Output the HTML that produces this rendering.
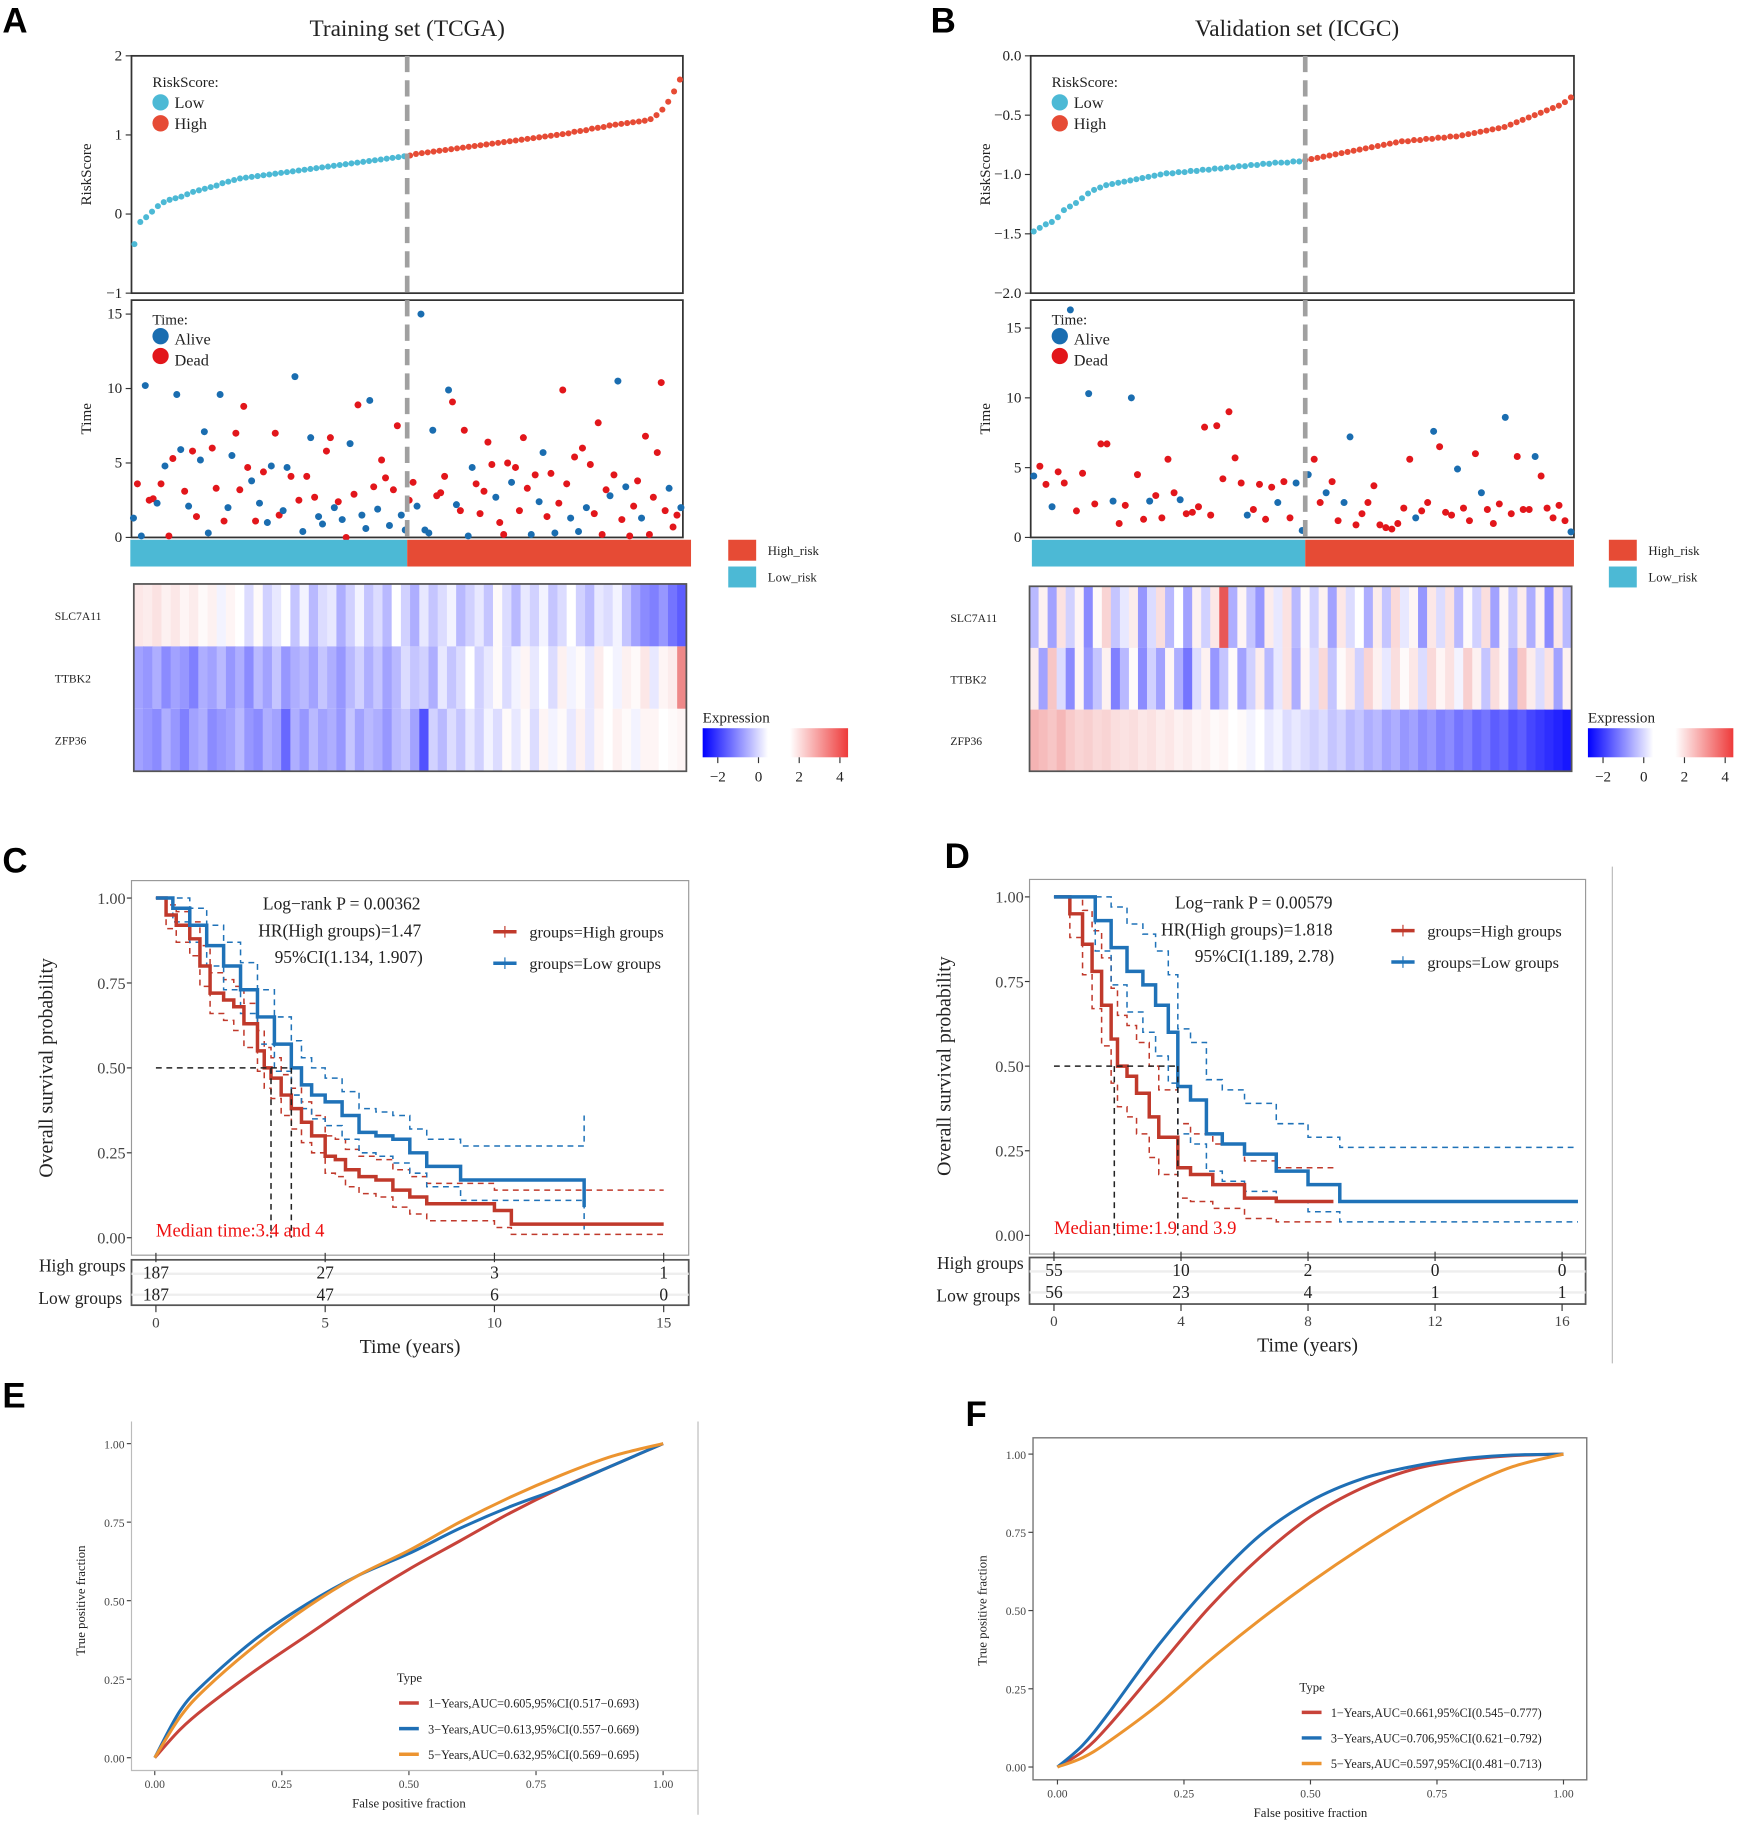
<!DOCTYPE html>
<html><head><meta charset="utf-8">
<style>
html,body{margin:0;padding:0;background:#fff;}
svg{display:block;}
text{font-family:"Liberation Serif",serif;fill:#222;}
.lt{font-family:"Liberation Sans",sans-serif;font-weight:bold;fill:#000;font-size:30px;}
</style></head>
<body>
<svg id="fig" width="1745" height="1831" viewBox="0 0 1500 1574" xmlns="http://www.w3.org/2000/svg">
<rect x="0" y="0" width="1500" height="1574" fill="#fff"/>
<text class="lt" x="2" y="28">A</text>
<text class="lt" x="800" y="28">B</text>
<text class="lt" x="2" y="750">C</text>
<text class="lt" x="812" y="746">D</text>
<text class="lt" x="2" y="1210">E</text>
<text class="lt" x="830" y="1226">F</text>

<text x="350" y="31" font-size="20" text-anchor="middle">Training set (TCGA)</text>
<text x="1115" y="31" font-size="20" text-anchor="middle">Validation set (ICGC)</text>
<g id="root"></g>
</svg>
<script>
// ===== Data: Panel A =====
const A_riskLow = [-0.38,-0.1,-0.04,0.03,0.1,0.15,0.18,0.2,0.22,0.25,0.28,0.3,0.32,0.34,0.36,0.39,0.41,0.43,0.45,0.46,0.47,0.48,0.49,0.5,0.51,0.52,0.53,0.54,0.55,0.56,0.57,0.58,0.59,0.6,0.61,0.62,0.63,0.64,0.65,0.66,0.67,0.68,0.69,0.7,0.71,0.72,0.73];
const A_riskHigh = [0.74,0.76,0.77,0.78,0.79,0.8,0.81,0.82,0.83,0.84,0.85,0.86,0.87,0.88,0.89,0.9,0.91,0.92,0.93,0.94,0.95,0.96,0.97,0.98,0.99,1.0,1.01,1.02,1.04,1.05,1.06,1.08,1.09,1.1,1.12,1.13,1.14,1.15,1.16,1.17,1.18,1.2,1.25,1.32,1.42,1.55,1.7];
const A_timeLow = [1.3,3.6,0.1,10.2,2.5,2.6,2.3,3.6,4.8,0.1,5.3,9.6,5.9,3.1,2.1,5.8,1.4,5.2,7.1,0.3,6.0,3.3,9.6,1.1,2.0,5.5,7.0,3.2,8.8,4.7,3.8,1.1,2.3,4.4,1.0,4.8,7.0,1.5,1.8,4.7,4.1,10.8,2.5,0.4,4.1,6.7,2.7,1.4,0.9,5.8,6.7,2.0,2.4,1.2,0.0,6.3,2.9,8.9,1.5,0.6,9.2,3.4,1.9,5.2,4.0,0.8,3.2,7.5,1.5,0.5];
const A_statLow = [0,1,0,0,1,1,0,1,0,1,1,0,0,1,0,1,1,0,0,0,1,1,0,1,0,0,1,1,1,1,0,1,0,1,0,0,1,1,0,0,1,0,1,0,1,0,1,0,0,1,1,0,1,0,1,0,1,1,0,0,0,1,0,1,1,0,1,1,0,0];
const A_timeHigh = [2.5,3.7,2.1,15.0,0.5,0.3,7.2,2.8,3.0,4.1,9.9,9.1,2.2,1.8,7.2,0.1,4.7,3.6,1.6,3.1,6.4,4.9,2.7,1.0,0.2,5.0,3.7,4.7,1.8,6.7,3.3,0.2,4.2,2.4,5.7,1.4,4.3,0.3,2.3,9.9,3.6,1.3,5.4,0.4,6.0,2.0,4.9,1.6,7.7,0.2,3.2,2.8,4.2,10.5,1.2,3.4,0.1,2.1,3.8,1.3,6.8,0.2,2.7,5.7,10.4,1.8,3.3,0.7,1.5,2.0];
const A_statHigh = [1,1,0,0,0,0,0,1,1,1,0,1,0,1,1,0,0,1,1,1,1,1,0,1,1,1,0,1,1,1,1,0,1,0,0,1,1,0,1,1,1,0,1,0,1,0,1,1,1,1,1,0,1,0,1,0,1,1,1,0,1,1,1,1,1,1,0,1,1,0];
const A_hmSLC = [0.5,0.4,0.6,0.3,0.5,0.2,0.4,0.1,0.3,-0.1,0.2,0.0,-0.3,0.1,-0.4,-0.2,0.0,-0.5,-0.1,-0.6,-0.3,-0.2,-0.7,-0.4,-0.1,-0.5,-0.3,-0.6,0.0,-0.4,-0.7,-0.2,-0.5,-0.3,-0.1,-0.6,-0.4,-0.2,-0.5,0.1,-0.3,-0.6,-0.2,-0.4,-0.1,-0.5,-0.3,0.0,-0.4,-0.6,-0.2,-0.3,-0.1,-0.5,-0.8,-1.0,-1.1,-0.9,-1.2,-1.4];
const A_hmTTBK = [-0.8,-0.9,-0.7,-1.0,-0.8,-0.9,-1.1,-0.7,-0.8,-0.6,-0.9,-0.7,-1.0,-0.6,-0.8,-0.5,-0.9,-0.7,-0.6,-0.8,-0.5,-0.7,-0.9,-0.6,-0.4,-0.7,-0.5,-0.8,-0.6,-0.3,-0.5,-0.4,-0.7,-0.2,-0.5,-0.3,0.0,-0.4,-0.2,0.1,-0.3,-0.1,0.2,-0.2,0.0,-0.3,0.3,-0.1,0.1,-0.2,0.4,0.0,-0.1,0.3,0.1,0.5,-0.2,0.2,0.4,2.5];
const A_hmZFP = [-0.8,-0.9,-1.0,-0.7,-0.9,-1.1,-0.8,-0.7,-1.0,-0.9,-0.8,-0.6,-0.9,-1.0,-0.7,-0.8,-1.3,-0.7,-0.9,-0.6,-0.8,-0.7,-0.9,-0.5,-0.8,-0.6,-0.7,-0.9,-0.6,-0.5,-0.8,-1.5,-0.4,-0.6,-0.3,-0.5,-0.2,-0.4,-0.1,-0.3,0.1,-0.2,0.1,-0.3,0.2,-0.1,0.1,-0.2,0.3,-0.2,0.2,0.0,0.3,0.1,-0.1,0.2,0.2,0.0,0.1,0.2];
// ===== Data: Panel B =====
const B_riskLow = [-1.48,-1.45,-1.42,-1.4,-1.36,-1.3,-1.27,-1.24,-1.2,-1.16,-1.13,-1.11,-1.09,-1.08,-1.07,-1.06,-1.05,-1.04,-1.03,-1.02,-1.01,-1.0,-0.99,-0.99,-0.98,-0.98,-0.97,-0.97,-0.96,-0.96,-0.95,-0.95,-0.94,-0.94,-0.93,-0.93,-0.92,-0.92,-0.91,-0.91,-0.9,-0.9,-0.9,-0.89,-0.89];
const B_riskHigh = [-0.88,-0.87,-0.86,-0.85,-0.84,-0.83,-0.82,-0.81,-0.8,-0.79,-0.78,-0.77,-0.76,-0.75,-0.74,-0.73,-0.72,-0.72,-0.71,-0.71,-0.7,-0.7,-0.69,-0.69,-0.68,-0.68,-0.67,-0.66,-0.65,-0.64,-0.63,-0.62,-0.61,-0.6,-0.58,-0.56,-0.54,-0.52,-0.5,-0.48,-0.46,-0.44,-0.42,-0.39,-0.35];
const B_timeLow = [4.4,5.1,3.8,2.2,4.7,3.9,16.3,1.9,4.6,10.3,2.4,6.7,6.7,2.6,1.0,2.3,10.0,4.5,1.3,2.6,3.0,1.4,5.6,3.2,2.7,1.7,1.8,2.2,7.9,1.6,8.0,4.2,9.0,5.7,3.9,1.6,2.0,3.8,1.3,3.6,2.5,4.0,1.4,3.9,0.5];
const B_statLow = [0,1,1,0,1,1,0,1,1,0,1,1,1,0,1,1,0,1,1,0,1,1,1,1,0,1,1,1,1,1,1,1,1,1,1,0,1,1,1,1,0,1,1,0,0];
const B_timeHigh = [4.5,5.6,2.5,3.2,4.0,1.2,2.5,7.2,0.9,1.7,2.5,3.7,0.9,0.7,0.6,1.0,2.1,5.6,1.4,1.9,2.5,7.6,6.5,1.8,1.6,4.9,2.1,1.2,6.0,3.2,2.0,1.0,2.4,8.6,1.7,5.8,2.0,2.0,5.8,4.4,2.1,1.4,2.3,1.2,0.4];
const B_statHigh = [0,1,1,0,1,1,0,0,1,1,1,1,1,1,1,1,1,1,0,1,1,0,1,1,1,0,1,1,1,0,1,1,1,0,1,1,1,1,0,1,1,1,1,1,0];
const B_hmSLC = [-0.6,0.3,-0.8,0.6,-0.4,0.2,-1.0,0.1,0.9,-0.5,-0.2,0.4,-0.9,-0.3,0.7,-0.6,0.0,-0.8,0.3,-0.4,0.5,3.5,-0.7,0.2,-0.5,-0.9,0.4,-0.2,0.6,-0.6,0.1,-0.4,0.3,-0.8,0.5,-0.3,0.0,-0.7,0.4,-0.5,0.8,-0.2,0.2,-0.9,0.5,-0.3,0.6,-0.6,0.1,-0.4,0.7,-0.8,0.2,-0.5,0.4,-0.7,0.3,-1.0,0.5,-0.6];
const B_hmTTBK = [0.4,-0.8,1.2,-0.3,-1.0,0.2,-0.9,-0.5,0.3,-1.1,-0.6,0.1,-1.0,-0.4,-0.8,0.2,-0.7,-1.2,-0.3,0.3,-0.9,-0.5,0.1,-0.8,-0.4,0.4,-0.6,-0.2,0.6,-0.7,0.2,-0.3,0.8,-0.5,0.1,0.5,-0.4,0.9,0.3,-0.2,0.7,0.1,0.5,-0.3,0.8,0.2,0.6,-0.1,1.0,0.3,-0.5,0.7,0.2,-0.7,1.2,0.4,-0.3,0.6,-0.8,0.3];
const B_hmZFP = [1.6,1.4,1.2,1.5,1.1,0.9,1.0,0.8,0.9,0.7,0.6,0.7,0.5,0.6,0.4,0.5,0.3,0.4,0.2,0.3,0.1,0.2,0.0,0.1,-0.1,0.0,-0.2,-0.1,-0.3,-0.2,-0.3,-0.4,-0.3,-0.5,-0.4,-0.6,-0.5,-0.7,-0.6,-0.8,-0.7,-0.9,-0.8,-1.0,-0.9,-1.1,-1.0,-1.2,-1.1,-1.3,-1.2,-1.4,-1.3,-1.5,-1.4,-1.6,-1.7,-1.8,-1.9,-2.0];
// ===== Data: Panel C (KM, TCGA) =====
const C_highT = [0,0.3,0.6,1,1.3,1.6,2,2.3,2.6,3,3.2,3.4,3.7,4,4.3,4.6,5,5.3,5.6,6,6.5,7,7.5,8,9,10,10.5,15];
const C_highS = [1,.95,.92,.88,.8,.72,.7,.68,.63,.55,.5,.47,.42,.38,.34,.3,.24,.23,.2,.18,.17,.14,.12,.1,.1,.08,.04,.04];
const C_highUp = [1,.98,.96,.93,.86,.78,.76,.74,.69,.61,.56,.53,.48,.44,.40,.36,.30,.29,.26,.24,.23,.2,.18,.16,.16,.14,.14,.14];
const C_highLo = [1,.91,.87,.83,.74,.66,.64,.61,.56,.49,.44,.41,.36,.32,.28,.25,.19,.18,.15,.13,.12,.09,.07,.05,.05,.03,.01,.01];
const C_lowT = [0,0.5,1,1.5,2,2.5,3,3.5,4,4.3,4.6,5,5.5,6,6.5,7,7.5,8,9,12.6,12.65];
const C_lowS = [1,.97,.92,.86,.8,.73,.65,.57,.5,.45,.42,.4,.36,.31,.3,.29,.25,.21,.17,.17,.09];
const C_lowUp = [1,1,.97,.92,.87,.81,.73,.65,.58,.53,.5,.47,.43,.38,.37,.36,.32,.29,.27,.27,.36];
const C_lowLo = [1,.93,.87,.8,.73,.66,.57,.49,.42,.38,.35,.33,.29,.25,.24,.22,.19,.15,.11,.11,.02];
const C_medians = [3.4,4];
const C_ticks = [0,5,10,15];
const C_riskHigh = [187,27,3,1];
const C_riskLow = [187,47,6,0];
// ===== Data: Panel D (KM, ICGC) =====
const D_highT = [0,.5,.9,1.2,1.5,1.8,2,2.3,2.6,3,3.3,3.9,4.3,5,6,7,8.8];
const D_highS = [1,.95,.86,.78,.68,.58,.5,.47,.42,.35,.29,.2,.18,.15,.11,.1,.1];
const D_highUp = [1,1,.96,.9,.82,.73,.65,.62,.57,.5,.43,.33,.3,.27,.22,.2,.2];
const D_highLo = [1,.88,.77,.67,.56,.45,.38,.35,.3,.23,.18,.11,.1,.08,.05,.04,.04];
const D_lowT = [0,1,1.3,1.8,2.3,2.8,3.2,3.6,3.9,4.3,4.8,5.3,6,7,8,9,16.5];
const D_lowS = [1,1,.93,.85,.78,.74,.68,.6,.44,.4,.3,.27,.24,.19,.15,.1,.1];
const D_lowUp = [1,1,1,.97,.92,.89,.84,.77,.61,.57,.46,.43,.39,.33,.29,.26,.26];
const D_lowLo = [1,1,.84,.74,.66,.6,.53,.45,.3,.27,.19,.16,.13,.1,.07,.04,.04];
const D_medians = [1.9,3.9];
const D_ticks = [0,4,8,12,16];
const D_riskHigh = [55,10,2,0,0];
const D_riskLow = [56,23,4,1,1];
// ===== Data: ROC =====
const rocFpr = [0,.05,.1,.2,.3,.4,.5,.6,.7,.8,.9,1];
const E_tpr1 = [0,.09,.16,.28,.39,.5,.6,.69,.78,.86,.93,1];
const E_tpr3 = [0,.15,.24,.38,.49,.58,.65,.73,.8,.86,.93,1];
const E_tpr5 = [0,.13,.22,.36,.48,.58,.66,.75,.83,.9,.96,1];
const F_tpr1 = [0,.05,.13,.32,.51,.67,.8,.89,.95,.98,.995,1];
const F_tpr3 = [0,.07,.17,.39,.58,.74,.85,.92,.96,.985,.997,1];
const F_tpr5 = [0,.03,.08,.2,.34,.47,.59,.7,.8,.89,.96,1];
const E_labels = ["1−Years,AUC=0.605,95%CI(0.517−0.693)","3−Years,AUC=0.613,95%CI(0.557−0.669)","5−Years,AUC=0.632,95%CI(0.569−0.695)"];
const F_labels = ["1−Years,AUC=0.661,95%CI(0.545−0.777)","3−Years,AUC=0.706,95%CI(0.621−0.792)","5−Years,AUC=0.597,95%CI(0.481−0.713)"];
const rocTicks = [0,0.25,0.5,0.75,1];

const NS = 'http://www.w3.org/2000/svg';
const root = document.getElementById('root');
function mk(tag, attrs, parent){
  const e = document.createElementNS(NS, tag);
  for (const k in attrs) e.setAttribute(k, attrs[k]);
  (parent||root).appendChild(e);
  return e;
}
function txt(x,y,s,size,extra){
  const t = mk('text', Object.assign({x:x,y:y,'font-size':size}, extra||{}));
  if (extra && extra.fill) t.style.fill = extra.fill;
  t.textContent = s;
  return t;
}
const CY = '#4cb9d5', RD = '#e64b35', ALIVE = '#1a6db0', DEAD = '#e2161b';
function hmColor(v){
  if (v < 0){ const t=Math.min(1,-v/2.2); const c=Math.round(255*(1-t)); return `rgb(${c},${c},255)`; }
  const t=Math.min(1,v/4.5); return `rgb(${Math.round(255-30*t)},${Math.round(255-215*t)},${Math.round(255-215*t)})`;
}

function riskPanel(cfg){
  const g = mk('g',{});
  
  
  const {x0,x1} = cfg;
  const ry = v => cfg.rY0 + (cfg.rMax - v)/(cfg.rMax-cfg.rMin)*(cfg.rY1-cfg.rY0);
  mk('rect',{x:x0,y:cfg.rY0,width:x1-x0,height:cfg.rY1-cfg.rY0,fill:'none',stroke:'#333','stroke-width':1.5},g);
  cfg.rTicks.forEach((v,i)=>{
    mk('line',{x1:x0-5,x2:x0,y1:ry(v),y2:ry(v),stroke:'#333'},g);
    g.appendChild(txt(x0-8, ry(v)+4, cfg.rTickLabels[i], 13, {'text-anchor':'end'}));
  });
  g.appendChild(txt(0,0,'RiskScore',13,{'text-anchor':'middle',transform:`translate(${x0-35},${(cfg.rY0+cfg.rY1)/2}) rotate(-90)`}));
  const all = cfg.low.concat(cfg.high); const N = all.length;
  const px = i => x0 + (i+0.5)/N*(x1-x0);
  all.forEach((v,i)=>{
    const c = mk('circle',{cx:px(i),cy:ry(v),r:2.6,fill: i<cfg.low.length?CY:RD},g);
    
    
  });
  g.appendChild(txt(x0+18,cfg.rY0+27,'RiskScore:',13));
  mk('circle',{cx:x0+25,cy:cfg.rY0+40,r:7,fill:CY},g);
  g.appendChild(txt(x0+37,cfg.rY0+45,'Low',14));
  mk('circle',{cx:x0+25,cy:cfg.rY0+58,r:7,fill:RD},g);
  g.appendChild(txt(x0+37,cfg.rY0+63,'High',14));

  const g2 = mk('g',{});
  
  
  const ty = v => cfg.tY1 - v/cfg.tMax*(cfg.tY1-cfg.tTop);
  mk('rect',{x:x0,y:cfg.tY0,width:x1-x0,height:cfg.tY1-cfg.tY0,fill:'none',stroke:'#333','stroke-width':1.5},g2);
  [0,5,10,15].forEach(v=>{
    mk('line',{x1:x0-5,x2:x0,y1:ty(v),y2:ty(v),stroke:'#333'},g2);
    g2.appendChild(txt(x0-8,ty(v)+4,String(v),13,{'text-anchor':'end'}));
  });
  g2.appendChild(txt(0,0,'Time',13,{'text-anchor':'middle',transform:`translate(${x0-35},${(cfg.tY0+cfg.tY1)/2}) rotate(-90)`}));
  const times = cfg.tLow.concat(cfg.tHigh), stats = cfg.sLow.concat(cfg.sHigh);
  const M = times.length, splitX = cfg.split;
  times.forEach((v,i)=>{
    const nl = cfg.tLow.length;
    const x = i<nl ? x0+(i+0.5)/nl*(splitX-x0) : splitX+(i-nl+0.5)/(M-nl)*(x1-splitX);
    const c = mk('circle',{cx:x,cy:Math.max(cfg.tY0,ty(v)),r:3,fill: stats[i]?DEAD:ALIVE},g2);
    
    
  });
  g2.appendChild(txt(x0+18,cfg.tY0+21,'Time:',13));
  mk('circle',{cx:x0+25,cy:cfg.tY0+31,r:7,fill:ALIVE},g2);
  g2.appendChild(txt(x0+37,cfg.tY0+38,'Alive',14));
  mk('circle',{cx:x0+25,cy:cfg.tY0+48,r:7,fill:DEAD},g2);
  g2.appendChild(txt(x0+37,cfg.tY0+56,'Dead',14));
  const dl = mk('line',{x1:splitX,x2:splitX,y1:cfg.rY0,y2:cfg.tY1,stroke:'#a0a0a0','stroke-width':4,'stroke-dasharray':'14,7'});
  
  
  const b1 = mk('rect',{x:cfg.barX0,y:cfg.tY1+2,width:splitX-cfg.barX0,height:23,fill:CY});
  
  
  const b2 = mk('rect',{x:splitX,y:cfg.tY1+2,width:cfg.barX1-splitX,height:23,fill:RD});
  
  
  const lgx = cfg.legX;
  mk('rect',{x:lgx,y:cfg.tY1+2,width:24,height:18,fill:RD});
  txt(lgx+34,cfg.tY1+15,'High_risk',11);
  mk('rect',{x:lgx,y:cfg.tY1+25,width:24,height:18,fill:CY});
  txt(lgx+34,cfg.tY1+38,'Low_risk',11);
  const g3 = mk('g',{});
  
  
  const rows = [cfg.hm1,cfg.hm2,cfg.hm3], names=['SLC7A11','TTBK2','ZFP36'];
  const hx0=cfg.hX0, hx1=cfg.hX1, hy0=cfg.hY0, hy1=cfg.hY1, rh=(hy1-hy0)/3;
  rows.forEach((row,r)=>{
    const w=(hx1-hx0)/row.length;
    row.forEach((v,i)=>{
      const c = mk('rect',{x:hx0+i*w,y:hy0+r*rh,width:w+0.6,height:rh,fill:hmColor(v)},g3);
      
      
    });
    g3.appendChild(txt(hx0-68,hy0+r*rh+rh/2+4,names[r],10));
  });
  mk('rect',{x:hx0,y:hy0,width:hx1-hx0,height:hy1-hy0,fill:'none',stroke:'#555','stroke-width':1.5},g3);
  const gl = mk('g',{});
  
  
  const lx=cfg.cbX;
  gl.appendChild(txt(lx,621,'Expression',13));
  const gid='grad'+cfg.id;
  const defs=mk('defs',{},gl); const lgd=mk('linearGradient',{id:gid,x1:0,x2:1,y1:0,y2:0},defs);
  [['0','#0000ff'],['0.45','#ffffff'],['0.6','#ffffff'],['1','#ee3a3a']].forEach(s=>mk('stop',{offset:s[0],'stop-color':s[1]},lgd));
  mk('rect',{x:lx,y:626,width:125,height:25,fill:`url(#${gid})`},gl);
  [-2,0,2,4].forEach((v,i)=>{
    const x = lx+13+i*35;
    mk('line',{x1:x,x2:x,y1:651,y2:656,stroke:'#333'},gl);
    gl.appendChild(txt(x,672,String(v).replace('-','−'),13,{'text-anchor':'middle'}));
  });
}

riskPanel({id:'panel-a',x0:113,x1:587,rY0:48,rY1:252,rMin:-1,rMax:2,rTicks:[2,1,0,-1],rTickLabels:['2','1','0','−1'],
  low:A_riskLow,high:A_riskHigh,tY0:258,tY1:462,tTop:270,tMax:15,tLow:A_timeLow,tHigh:A_timeHigh,sLow:A_statLow,sHigh:A_statHigh,
  split:350,barX0:112,barX1:594,legX:626,hX0:115,hX1:590,hY0:502,hY1:663,hm1:A_hmSLC,hm2:A_hmTTBK,hm3:A_hmZFP,cbX:604});
riskPanel({id:'panel-b',x0:886,x1:1353,rY0:48,rY1:252,rMin:-2,rMax:0,rTicks:[0,-0.5,-1,-1.5,-2],rTickLabels:['0.0','−0.5','−1.0','−1.5','−2.0'],
  low:B_riskLow,high:B_riskHigh,tY0:258,tY1:462,tTop:282,tMax:15,tLow:B_timeLow,tHigh:B_timeHigh,sLow:B_statLow,sHigh:B_statHigh,
  split:1122,barX0:887,barX1:1353,legX:1383,hX0:885,hX1:1351,hY0:504,hY1:663,hm1:B_hmSLC,hm2:B_hmTTBK,hm3:B_hmZFP,cbX:1365});

const RDk = '#c0392b', BLk = '#1f72b8';
function kmPanel(c){
  const g = mk('g',{});
  
  
  const X = t => c.xA + t*c.pxPer, Y = s => c.y0 - s*(c.y0-c.y1);
  mk('rect',{x:c.bx0,y:c.by0,width:c.bx1-c.bx0,height:c.by1-c.by0,fill:'none',stroke:'#999','stroke-width':1},g);
  [0,0.25,0.5,0.75,1].forEach(v=>{
    mk('line',{x1:c.bx0-4,x2:c.bx0,y1:Y(v),y2:Y(v),stroke:'#333'},g);
    g.appendChild(txt(c.bx0-5,Y(v)+5,v.toFixed(2),14,{'text-anchor':'end',fill:'#444'}));
  });
  g.appendChild(txt(0,0,'Overall survival probability',17,{'text-anchor':'middle',transform:`translate(${c.bx0-68},${Y(0.5)}) rotate(-90)`}));
  function step(T,S){ let d=`M${X(T[0])},${Y(S[0])}`; for(let i=1;i<T.length;i++){ d+=` H${X(T[i])} V${Y(S[i])}`; } return d; }
  const series = [[c.hT,c.hUp,RDk,1.3,'5,4','high-ci-upper'],[c.hT,c.hLo,RDk,1.3,'5,4','high-ci-lower'],[c.lT,c.lUp,BLk,1.3,'5,4','low-ci-upper'],[c.lT,c.lLo,BLk,1.3,'5,4','low-ci-lower'],[c.hT,c.hS,RDk,3,'','high-groups-curve'],[c.lT,c.lS,BLk,3,'','low-groups-curve']];
  series.forEach(s=>{
    const p = mk('path',{d:step(s[0],s[1]),fill:'none',stroke:s[2],'stroke-width':s[3],'stroke-dasharray':s[4]||'none'},g);
    
    
  });
  const mx = Math.max(...c.med);
  mk('line',{x1:X(0),x2:X(mx),y1:Y(0.5),y2:Y(0.5),stroke:'#222','stroke-width':1.3,'stroke-dasharray':'5,4'},g);
  c.med.forEach(m=>mk('line',{x1:X(m),x2:X(m),y1:Y(0.5),y2:Y(0),stroke:'#222','stroke-width':1.3,'stroke-dasharray':'5,4'},g));
  g.appendChild(txt(X(0),Y(0)-1,c.medText,16,{fill:'#ee1111'}));
  c.stats.forEach(s=>g.appendChild(txt(s[0],s[1],s[2],15,{fill:'#222'})));
  mk('line',{x1:c.legX,x2:c.legX+20,y1:c.legY,y2:c.legY,stroke:RDk,'stroke-width':3},g);
  mk('line',{x1:c.legX+10,x2:c.legX+10,y1:c.legY-5,y2:c.legY+5,stroke:RDk,'stroke-width':1},g);
  g.appendChild(txt(c.legX+31,c.legY+5,'groups=High groups',14));
  mk('line',{x1:c.legX,x2:c.legX+20,y1:c.legY+27,y2:c.legY+27,stroke:BLk,'stroke-width':3},g);
  mk('line',{x1:c.legX+10,x2:c.legX+10,y1:c.legY+22,y2:c.legY+32,stroke:BLk,'stroke-width':1},g);
  g.appendChild(txt(c.legX+31,c.legY+32,'groups=Low groups',14));
  const gt = mk('g',{});
  
  
  mk('rect',{x:c.bx0,y:c.ty0,width:c.bx1-c.bx0,height:c.ty1-c.ty0,fill:'none',stroke:'#555','stroke-width':1.5},gt);
  mk('line',{x1:c.bx0,x2:c.bx1,y1:c.ty0+12,y2:c.ty0+12,stroke:'#eee','stroke-width':2},gt);
  mk('line',{x1:c.bx0,x2:c.bx1,y1:c.ty0+30,y2:c.ty0+30,stroke:'#eee','stroke-width':2},gt);
  gt.appendChild(txt(c.bx0-5,c.ty0+10,'High groups',15,{'text-anchor':'end'}));
  gt.appendChild(txt(c.bx0-8,c.ty0+38,'Low groups',15,{'text-anchor':'end'}));
  c.ticks.forEach((t,i)=>{
    const x=X(t);
    mk('line',{x1:x,x2:x,y1:c.by1-2,y2:c.by1+6,stroke:'#333'},gt);
    mk('line',{x1:x,x2:x,y1:c.ty1,y2:c.ty1+6,stroke:'#333'},gt);
    gt.appendChild(txt(x,c.ty0+16,String(c.rH[i]),15,{'text-anchor':'middle'}));
    gt.appendChild(txt(x,c.ty0+35,String(c.rL[i]),15,{'text-anchor':'middle'}));
    gt.appendChild(txt(x,c.ty1+19,String(t),13,{'text-anchor':'middle',fill:'#444'}));
  });
  gt.appendChild(txt((c.bx0+c.bx1)/2,c.ty1+41,'Time (years)',17,{'text-anchor':'middle'}));
}
kmPanel({id:'panel-c',bx0:113,bx1:592,by0:757,by1:1079,xA:134,pxPer:29.1,y0:1064,y1:772,
  hT:C_highT,hS:C_highS,hUp:C_highUp,hLo:C_highLo,lT:C_lowT,lS:C_lowS,lUp:C_lowUp,lLo:C_lowLo,med:C_medians,
  medText:'Median time:3.4 and 4',stats:[[226,782,'Log−rank P = 0.00362'],[222,805,'HR(High groups)=1.47'],[236,828,'95%CI(1.134, 1.907)']],
  legX:424,legY:801,ty0:1083,ty1:1122,ticks:C_ticks,rH:C_riskHigh,rL:C_riskLow});
kmPanel({id:'panel-d',bx0:885,bx1:1363,by0:756,by1:1078,xA:906,pxPer:27.3,y0:1062,y1:771,
  hT:D_highT,hS:D_highS,hUp:D_highUp,hLo:D_highLo,lT:D_lowT,lS:D_lowS,lUp:D_lowUp,lLo:D_lowLo,med:D_medians,
  medText:'Median time:1.9 and 3.9',stats:[[1010,781,'Log−rank P = 0.00579'],[998,804,'HR(High groups)=1.818'],[1027,827,'95%CI(1.189, 2.78)']],
  legX:1196,legY:800,ty0:1081,ty1:1121,ticks:D_ticks,rH:D_riskHigh,rL:D_riskLow});
const sep = mk('line',{x1:1386,x2:1386,y1:745,y2:1172,stroke:'#bbb','stroke-width':1});



function rocPanel(c){
  const g = mk('g',{});
  
  
  const X = v => c.xA + v*(c.xB-c.xA), Y = v => c.yA - v*(c.yA-c.yB);
  mk('rect',{x:c.bx0,y:c.by0,width:c.bx1-c.bx0,height:c.by1-c.by0,fill:'none',stroke:c.border,'stroke-width':1.2},g);
  rocTicks.forEach(v=>{
    mk('line',{x1:c.bx0-4,x2:c.bx0,y1:Y(v),y2:Y(v),stroke:'#444'},g);
    g.appendChild(txt(c.bx0-6,Y(v)+4,v.toFixed(2),10,{'text-anchor':'end',fill:'#444'}));
    mk('line',{x1:X(v),x2:X(v),y1:c.by1,y2:c.by1+4,stroke:'#444'},g);
    g.appendChild(txt(X(v),c.by1+(c.xlabOff),v.toFixed(2),10,{'text-anchor':'middle',fill:'#444'}));
  });
  g.appendChild(txt((c.xA+c.xB)/2,c.by1+c.xlabOff+17,'False positive fraction',11,{'text-anchor':'middle'}));
  g.appendChild(txt(0,0,'True positive fraction',11,{'text-anchor':'middle',transform:`translate(${c.bx0-40},${Y(0.5)}) rotate(-90)`}));
  const cols=['#c8433a','#1f6fb5','#ec9430'];
  c.tprs.forEach((tp,k)=>{
    const pts = rocFpr.map((f,i)=>[X(f),Y(tp[i])]);
    let d=`M${pts[0][0]},${pts[0][1]}`;
    for(let i=0;i<pts.length-1;i++){
      const p0=pts[Math.max(0,i-1)],p1=pts[i],p2=pts[i+1],p3=pts[Math.min(pts.length-1,i+2)];
      d+=` C${p1[0]+(p2[0]-p0[0])/6},${p1[1]+(p2[1]-p0[1])/6} ${p2[0]-(p3[0]-p1[0])/6},${p2[1]-(p3[1]-p1[1])/6} ${p2[0]},${p2[1]}`;
    }
    const p = mk('path',{d:d,fill:'none',stroke:cols[k],'stroke-width':2.6},g);
    
    
  });
  g.appendChild(txt(c.legX-2,c.legY-18,'Type',11));
  c.labels.forEach((l,k)=>{
    mk('line',{x1:c.legX,x2:c.legX+17,y1:c.legY+k*22,y2:c.legY+k*22,stroke:cols[k],'stroke-width':3},g);
    g.appendChild(txt(c.legX+25,c.legY+k*22+4,l,10.5));
  });
}
rocPanel({id:'panel-e',bx0:113,bx1:600,by0:1222,by1:1522,xA:133,xB:570,yA:1511,yB:1241,border:'#fff',xlabOff:15,
  tprs:[E_tpr1,E_tpr3,E_tpr5],labels:E_labels,legX:343,legY:1464});
const eBorder = mk('path',{d:'M113,1222 V1522 H600 M600,1222 V1560',fill:'none',stroke:'#bbb','stroke-width':1});


rocPanel({id:'panel-f',bx0:888,bx1:1364,by0:1236,by1:1530,xA:909,xB:1344,yA:1519,yB:1250,border:'#777',xlabOff:15,
  tprs:[F_tpr1,F_tpr3,F_tpr5],labels:F_labels,legX:1119,legY:1472});
</script>
</body></html>
